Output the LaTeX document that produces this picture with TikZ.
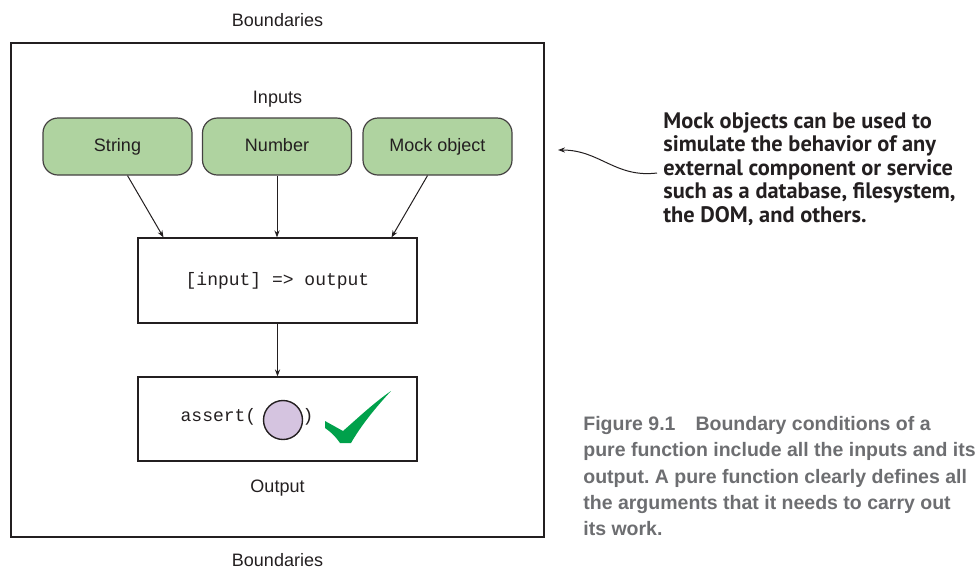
\documentclass[tikz,border=0pt]{standalone}
\usepackage{fontspec}
\setmainfont{Liberation Sans}
\setmonofont{Liberation Mono}
\newfontfamily\notefont{PT Sans}
\usetikzlibrary{arrows.meta}
\definecolor{ink}{HTML}{231F20}
\definecolor{inputgreen}{HTML}{AFD3A0}
\definecolor{probe}{HTML}{D5C4E0}
\definecolor{tick}{HTML}{00A14B}
\definecolor{capgray}{HTML}{6D6E71}
\frenchspacing

\begin{document}
\begin{tikzpicture}[
  x=0.5pt,y=-0.5pt,color=ink,
  font=\fontsize{9}{11}\selectfont,
  inbox/.style={draw=ink!85,fill=inputgreen,rounded corners=7.5pt,minimum width=74.5pt,minimum height=28.5pt,
    text height=6.6pt,text depth=1.9pt,line width=0.6pt},
  stage/.style={draw=ink,line width=0.6pt,minimum width=139.5pt,minimum height=42.5pt,font=\ttfamily\fontsize{9}{11}\selectfont},
  flow/.style={-{Stealth[length=3.5pt,width=2.6pt]},line width=0.5pt}
]
  \useasboundingbox (0,0) rectangle (977,568);
  % boundary of the function
  \draw[line width=0.7pt] (11,43) rectangle (544,537);
  \node[anchor=base] (topb) at (277.5,26) {Boundaries};
  \node[anchor=base] (botb) at (277.5,566) {Boundaries};

  \node[anchor=base] (inputs) at (277.5,103) {Inputs};
  \node[inbox] (str) at (117.5,146.5) {String};
  \node[inbox] (num) at (277,146.5) {Number};
  \node[inbox] (mock) at (437.5,146.5) {Mock object};

  \node[stage] (func) at (277.5,280.5) {[input] => output};
  \node[stage,minimum height=42pt] (out) at (277.5,419) {};
  \node[anchor=base] (output) at (277.5,492) {Output};

  \draw[flow] ([xshift=5pt]str.south) -- ([xshift=-57pt]func.north);
  \draw[flow] (num.south) -- (num.south |- func.north);
  \draw[flow] ([xshift=-5pt]mock.south) -- ([xshift=57pt]func.north);
  \draw[flow] (func) -- (out);

  % assert( o ) and the tick
  \node[font=\ttfamily\fontsize{9}{11}\selectfont] (assertl) at (218.5,417) {assert(};
  \node[draw=ink,fill=probe,circle,minimum size=19.5pt,inner sep=0pt,line width=0.7pt] (val) at (283,420) {};
  \node[font=\ttfamily\fontsize{9}{11}\selectfont] (assertr) at (308,417) {)};
  \fill[tick] (325,421) -- (343,431) .. controls (360,416) and (375,402) .. (391,391)
    .. controls (377,406) and (362,424) .. (351,443) -- (340,443)
    .. controls (336,437) and (331,432) .. (325,428) -- cycle;

  % side note
  \node[anchor=north west,inner sep=0pt,align=left,
    font=\notefont\bfseries\fontsize{11.2}{11.75}\selectfont] (note) at (663,112)
    {Mock objects can be used to\\
     simulate the behavior of any\\
     external component or service\\
     such as a database, filesystem,\\
     the DOM, and others.};
  \coordinate (notetip) at (558,150);
  \draw[-{Stealth[length=3.5pt,width=2.6pt]},line width=0.5pt]
    ([xshift=-3pt,yshift=-2pt]note.west) .. controls (615,178) and (600,150) .. (notetip);

  % caption
  \node[anchor=north west,inner sep=0pt,align=left,text=capgray,
    font=\bfseries\fontsize{9.75}{13.15}\selectfont] (caption) at (583,416)
    {Figure 9.1\hspace{10pt}Boundary conditions of a\\
     pure function include all the inputs and its\\
     output. A pure function clearly defines all\\
     the arguments that it needs to carry out\\
     its work.};
\end{tikzpicture}
\end{document}
